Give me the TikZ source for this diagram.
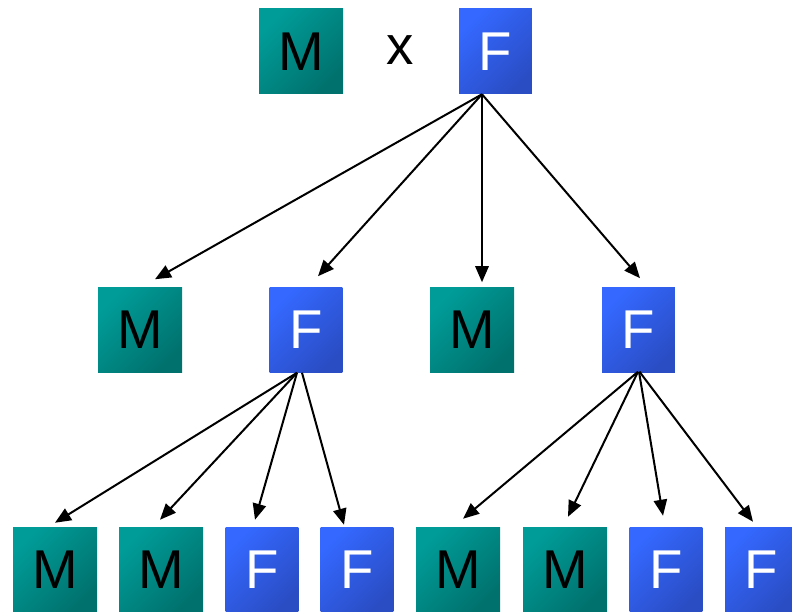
\documentclass[tikz,border=0pt]{standalone}
\usepackage{fontspec}
\setmainfont{Liberation Sans}
\usetikzlibrary{arrows.meta,calc}
\definecolor{tealA}{HTML}{009C98}
\definecolor{tealB}{HTML}{00716D}
\definecolor{blueA}{HTML}{3468FF}
\definecolor{blueB}{HTML}{2A4DC4}
\tikzset{
  mbox/.style={rectangle, inner sep=0pt, minimum width=63pt, minimum height=63.75pt,
    top color=tealA, bottom color=tealB, shading angle=45, text=black, font=\fontsize{41}{41}\selectfont},
  fbox/.style={rectangle, inner sep=0pt, minimum width=54.5pt, minimum height=63.75pt,
    top color=blueA, bottom color=blueB, shading angle=45, text=white, font=\fontsize{41}{41}\selectfont},
  arr/.style={line width=1.5pt, -{Triangle[length=12pt,width=10pt]}}
}
\begin{document}
\begin{tikzpicture}[x=0.75pt,y=0.75pt]
\useasboundingbox (0,0) rectangle (792,611);
% top row
\node[mbox] (m0) at (301,559.5) {M};
\node[font=\fontsize{41}{41}\selectfont, inner sep=0pt] (cross) at (400,561) {x};
\node[fbox] (f0) at (495.5,559.5) {F};
% middle row
\node[mbox] (m1) at (140,281) {M};
\node[fbox] (f1) at (306,281) {F};
\node[mbox] (m2) at (472,281) {M};
\node[fbox] (f2) at (638.5,281) {F};
% bottom row
\node[mbox] (b1) at (55,41.5) {M};
\node[mbox] (b2) at (161,41.5) {M};
\node[fbox] (b3) at (262,41.5) {F};
\node[fbox] (b4) at (357,41.5) {F};
\node[mbox] (b5) at (458,41.5) {M};
\node[mbox] (b6) at (565,41.5) {M};
\node[fbox] (b7) at (666,41.5) {F};
\node[fbox] (b8) at (761.5,41.5) {F};
% arrows from top F
\draw[arr] ($(f0.south)+(-13.5,0)$) -- ($(m1.north)+(15,8)$);
\draw[arr] ($(f0.south)+(-13.5,0)$) -- ($(f1.north)+(12,11)$);
\draw[arr] ($(f0.south)+(-13.5,0)$) -- ($(m2.north)+(10,5)$);
\draw[arr] ($(f0.south)+(-13.5,0)$) -- ($(f2.north)+(1.5,9)$);
% arrows from middle F (left)
\draw[arr] ($(f1.south)+(-9,0)$) -- ($(b1.north)+(0,4)$);
\draw[arr] ($(f1.south)+(-9,0)$) -- ($(b2.north)+(-1,7)$);
\draw[arr] ($(f1.south)+(-9,0)$) -- ($(b3.north)+(-7,7)$);
\draw[arr] ($(f1.south)+(-4,0)$) -- ($(b4.north)+(-13,2)$);
% arrows from middle F (right)
\draw[arr] ($(f2.south)+(-0.5,1)$) -- ($(b5.north)+(5,8)$);
\draw[arr] ($(f2.south)+(-0.5,1)$) -- ($(b6.north)+(3,10)$);
\draw[arr] ($(f2.south)+(0.5,1)$) -- ($(b7.north)+(-3,11)$);
\draw[arr] ($(f2.south)+(1,1)$) -- ($(b8.north)+(-8.5,5)$);
\end{tikzpicture}
\end{document}
